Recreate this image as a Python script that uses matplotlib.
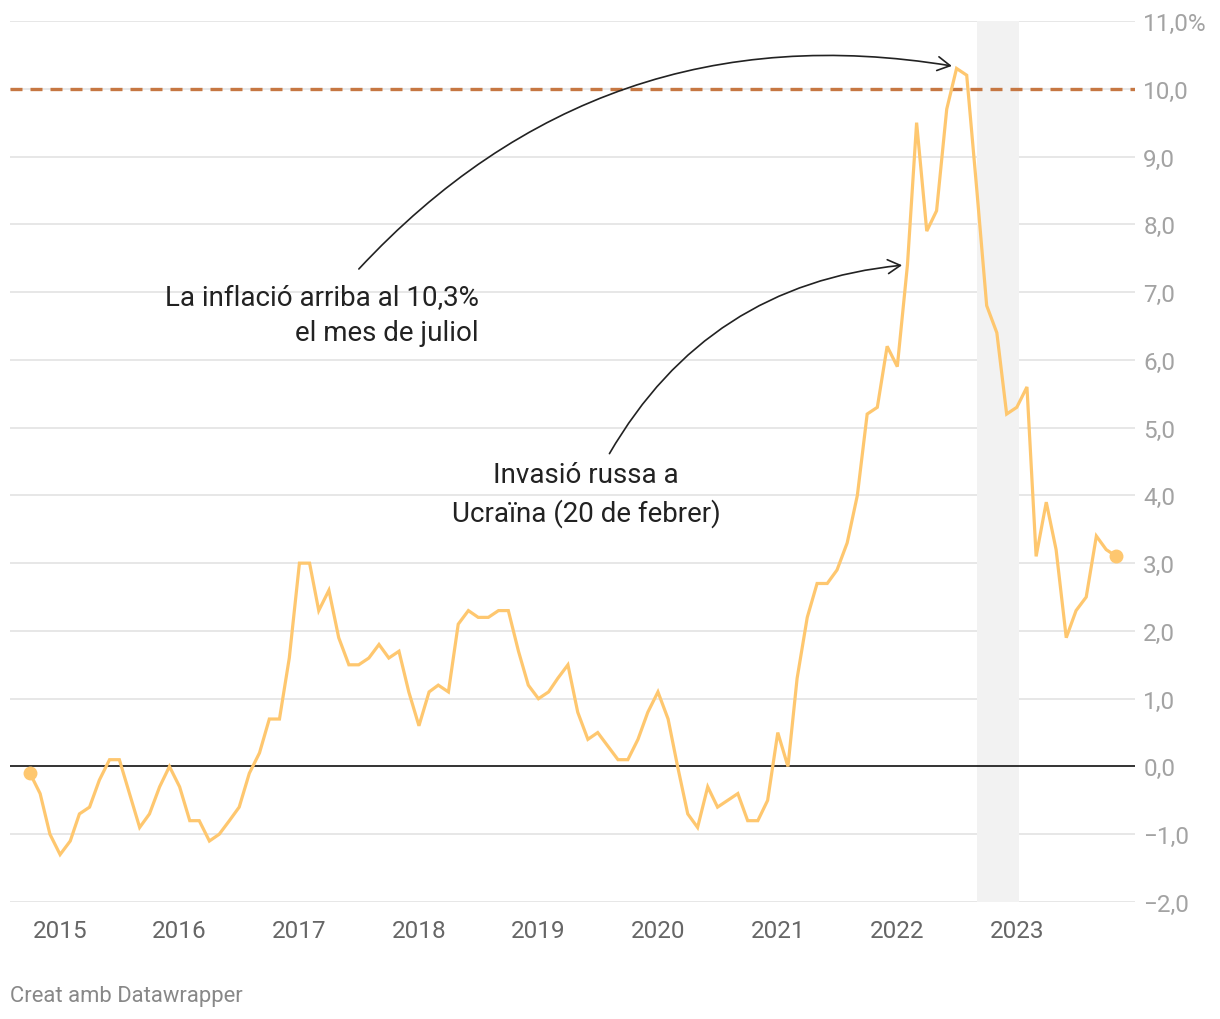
import numpy as np
import pandas as pd
import matplotlib
matplotlib.use('Agg')
import matplotlib.pyplot as plt
import matplotlib.dates as mdates
from matplotlib.patches import FancyArrowPatch

plt.rcParams['font.family'] = ['Roboto', 'DejaVu Sans']

# monthly inflation (%), Oct 2014 - Nov 2023
start_month = '2014-10-01'
inflation = [
    -0.1, -0.4, -1.0,
    -1.3, -1.1, -0.7, -0.6, -0.2, 0.1, 0.1, -0.4, -0.9, -0.7, -0.3, 0.0,
    -0.3, -0.8, -0.8, -1.1, -1.0, -0.8, -0.6, -0.1, 0.2, 0.7, 0.7, 1.6,
    3.0, 3.0, 2.3, 2.6, 1.9, 1.5, 1.5, 1.6, 1.8, 1.6, 1.7, 1.1,
    0.6, 1.1, 1.2, 1.1, 2.1, 2.3, 2.2, 2.2, 2.3, 2.3, 1.7, 1.2,
    1.0, 1.1, 1.3, 1.5, 0.8, 0.4, 0.5, 0.3, 0.1, 0.1, 0.4, 0.8,
    1.1, 0.7, 0.0, -0.7, -0.9, -0.3, -0.6, -0.5, -0.4, -0.8, -0.8, -0.5,
    0.5, 0.0, 1.3, 2.2, 2.7, 2.7, 2.9, 3.3, 4.0, 5.2, 5.3, 6.2,
    5.9, 7.4, 9.5, 7.9, 8.2, 9.7, 10.3, 10.2, 8.5, 6.8, 6.4, 5.2,
    5.3, 5.6, 3.1, 3.9, 3.2, 1.9, 2.3, 2.5, 3.4, 3.2, 3.1,
]
dates = pd.date_range(start_month, periods=len(inflation), freq='MS')

years = [2015, 2016, 2017, 2018, 2019, 2020, 2021, 2022, 2023]
yticks = [-2, -1, 0, 1, 2, 3, 4, 5, 6, 7, 8, 9, 10, 11]
ref_level = 10.0
band = ('2022-09-01', '2023-01-07')
peak_date, peak_val = '2022-07-01', 10.3
invasion_date, invasion_val = '2022-02-01', 7.4

LINE = '#fec76f'
DASH = '#c67742'
GRID = '#e3e3e3'

fig = plt.figure(figsize=(12.2, 10.2), dpi=100)
ax = fig.add_axes([10/1220, 117/1020, 1125/1220, 881/1020])

x = mdates.date2num(dates)
ax.set_xlim(mdates.date2num(pd.Timestamp('2014-08-01')), mdates.date2num(pd.Timestamp('2023-12-28')))
ax.set_ylim(-2, 11)

for v in yticks:
    if v != 0:
        ax.axhline(v, color=GRID, lw=1.2, zorder=0)
ax.axhline(0, color='#111111', lw=1.2, zorder=2)

ax.axvspan(mdates.date2num(pd.Timestamp(band[0])), mdates.date2num(pd.Timestamp(band[1])),
           color='#f2f2f2', zorder=0.5, lw=0)

ax.axhline(ref_level, color=DASH, lw=2.4, ls=(0, (3.6, 2.4)), zorder=1)

ax.plot(x, inflation, color=LINE, lw=2.3, zorder=3, solid_joinstyle='miter')
ax.plot([x[0], x[-1]], [inflation[0], inflation[-1]], 'o', color=LINE, ms=9, zorder=4)

for s in ax.spines.values():
    s.set_visible(False)

ax.set_xticks([mdates.date2num(pd.Timestamp(f'{y}-01-01')) for y in years])
ax.set_xticklabels([str(y) for y in years])
ax.tick_params(axis='x', length=0, pad=12, labelsize=17.5, labelcolor='#666666')

ax.yaxis.tick_right()
ax.set_yticks(yticks)
ylabels = [f'{v:.1f}'.replace('.', ',').replace('-', '\u2212') for v in yticks]
ylabels[-1] = ylabels[-1] + '%'
ax.set_yticklabels(ylabels)
ax.tick_params(axis='y', length=0, pad=6, labelsize=17.5, labelcolor='#a3a3a3')

# annotations
ax.text(0.4169, 0.6663, 'La inflació arriba al 10,3%\nel mes de juliol', transform=ax.transAxes,
        ha='right', va='center', fontsize=20, color='#222222', linespacing=1.42)
ax.text(0.512, 0.4631, 'Invasió russa a\nUcraïna (20 de febrer)', transform=ax.transAxes,
        ha='center', va='center', fontsize=20, color='#222222', linespacing=1.42)

# curved arrows, built in display coords
fig.canvas.draw()
p0 = ax.transAxes.transform((0.3084, 0.7162))
p1 = ax.transData.transform((mdates.date2num(pd.Timestamp(peak_date)) - 6, peak_val + 0.03))
a1 = FancyArrowPatch(p0, p1, connectionstyle='arc3,rad=-0.27',
                     arrowstyle='->,head_length=9,head_width=5',
                     color='#222222', lw=1.2, zorder=5, transform=None)
fig.add_artist(a1)

q0 = ax.transAxes.transform((0.5316, 0.5062))
q1 = ax.transData.transform((mdates.date2num(pd.Timestamp(invasion_date)) - 8, invasion_val))
a2 = FancyArrowPatch(q0, q1, connectionstyle='arc3,rad=-0.26',
                     arrowstyle='->,head_length=9,head_width=5',
                     color='#222222', lw=1.2, zorder=5, transform=None)
fig.add_artist(a2)

fig.text(10/1220, 1 - 997/1020, 'Creat amb Datawrapper', ha='left', va='center',
         fontsize=15.8, color='#888888')

fig.savefig('out.png', dpi=100, facecolor='white')
